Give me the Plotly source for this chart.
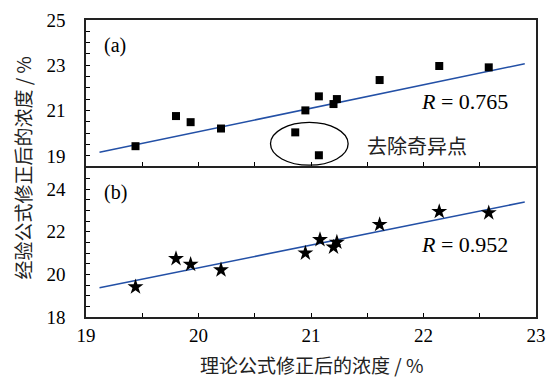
import plotly.graph_objects as go
from plotly.subplots import make_subplots

# Panel (a): all points
xa = [19.44, 19.80, 19.93, 20.20, 20.86, 20.95, 21.07, 21.07, 21.20, 21.23, 21.61, 22.14, 22.58]
ya = [19.43, 20.76, 20.49, 20.21, 20.04, 21.01, 21.63, 19.03, 21.29, 21.51, 22.35, 22.97, 22.91]
# Panel (b): outliers removed
xb = [19.44, 19.80, 19.93, 20.20, 20.95, 21.08, 21.20, 21.23, 21.61, 22.14, 22.58]
yb = [19.41, 20.74, 20.47, 20.21, 21.00, 21.63, 21.28, 21.51, 22.34, 22.95, 22.89]
# Fit lines (endpoints)
fit_a_x = [19.12, 22.90]
fit_a_y = [19.16, 23.07]
fit_b_x = [19.12, 22.90]
fit_b_y = [19.37, 23.40]

r_a = "0.765"
r_b = "0.952"

SERIF = "Liberation Serif"
CJK = "Noto Sans CJK SC"
LINE = "#2350a6"

fig = make_subplots(rows=2, cols=1, shared_xaxes=False, vertical_spacing=0.0)

fig.add_trace(go.Scatter(x=fit_a_x, y=fit_a_y, mode="lines",
                         line=dict(color=LINE, width=1.5), showlegend=False), row=1, col=1)
fig.add_trace(go.Scatter(x=xa, y=ya, mode="markers",
                         marker=dict(symbol="square", size=8, color="black"), showlegend=False), row=1, col=1)
fig.add_trace(go.Scatter(x=fit_b_x, y=fit_b_y, mode="lines",
                         line=dict(color=LINE, width=1.5), showlegend=False), row=2, col=1)
fig.add_trace(go.Scatter(x=xb, y=yb, mode="markers",
                         marker=dict(symbol="star", size=12, color="black"), showlegend=False), row=2, col=1)

tickfont = dict(family=SERIF, size=19, color="black")
common_x = dict(range=[19, 23], dtick=1, tick0=19, ticks="inside", ticklen=4, tickcolor="black",
                showline=True, linecolor="#222", linewidth=1.5, mirror=True, showgrid=False,
                zeroline=False, tickfont=tickfont, automargin=False,
                minor=dict(dtick=0.5, ticks="inside", ticklen=4, tickcolor="black", showgrid=False))
fig.update_xaxes(**common_x)
fig.update_xaxes(showticklabels=False, row=1, col=1)

common_y = dict(ticks="inside", ticklen=4, tickcolor="black", showline=True, linecolor="#222",
                linewidth=1.5, mirror=True, showgrid=False, zeroline=False, tickfont=tickfont,
                ticklabelstandoff=15, automargin=False,
                minor=dict(dtick=0.5, ticks="inside", ticklen=4, tickcolor="black", showgrid=False))
fig.update_yaxes(**common_y)
fig.update_yaxes(range=[18.55, 25], dtick=2, tick0=19, row=1, col=1)
fig.update_yaxes(range=[18, 25], dtick=2, tick0=18, row=2, col=1)

fig.update_layout(
    width=549, height=378,
    margin=dict(l=86, r=13, t=20, b=61, autoexpand=False),
    plot_bgcolor="white", paper_bgcolor="white",
    xaxis=dict(domain=[0, 1]), xaxis2=dict(domain=[0, 1]),
    yaxis=dict(domain=[0.508, 1.0]),
    yaxis2=dict(domain=[0.0, 0.502]),
)

fig.add_annotation(xref="paper", yref="paper", x=0.5, y=-0.16, text="理论公式修正后的浓度 / %",
                   showarrow=False, xanchor="center", yanchor="middle",
                   font=dict(family=CJK, size=19, color="#222"))
fig.add_annotation(xref="paper", yref="paper", x=-0.142, y=0.5, text="经验公式修正后的浓度 / %",
                   textangle=-90, showarrow=False, xanchor="center", yanchor="middle",
                   font=dict(family=CJK, size=19, color="#222"))

afont = dict(family=SERIF, size=20, color="black")
rfont = dict(family=SERIF, size=22, color="black")
fig.add_annotation(x=19.14, y=23.87, xref="x", yref="y", text="(a)", xanchor="left",
                   showarrow=False, font=afont)
fig.add_annotation(x=19.14, y=23.86, xref="x2", yref="y2", text="(b)", xanchor="left",
                   showarrow=False, font=afont)
fig.add_annotation(x=22.77, y=21.41, xref="x", yref="y", text="<i>R</i> = " + r_a, xanchor="right",
                   showarrow=False, font=rfont)
fig.add_annotation(x=22.77, y=21.39, xref="x2", yref="y2", text="<i>R</i> = " + r_b, xanchor="right",
                   showarrow=False, font=rfont)
fig.add_annotation(x=21.48, y=19.47, xref="x", yref="y", text="去除奇异点", xanchor="left",
                   showarrow=False, font=dict(family=CJK, size=20, color="#222"))

fig.add_shape(type="circle", xref="x", yref="y", x0=20.64, x1=21.33, y0=18.59, y1=20.48,
              line=dict(color="black", width=1.3))

fig.write_html("out.html", config={"displayModeBar": False},
               post_script="document.body.style.margin='0';document.body.style.overflow='hidden';")
